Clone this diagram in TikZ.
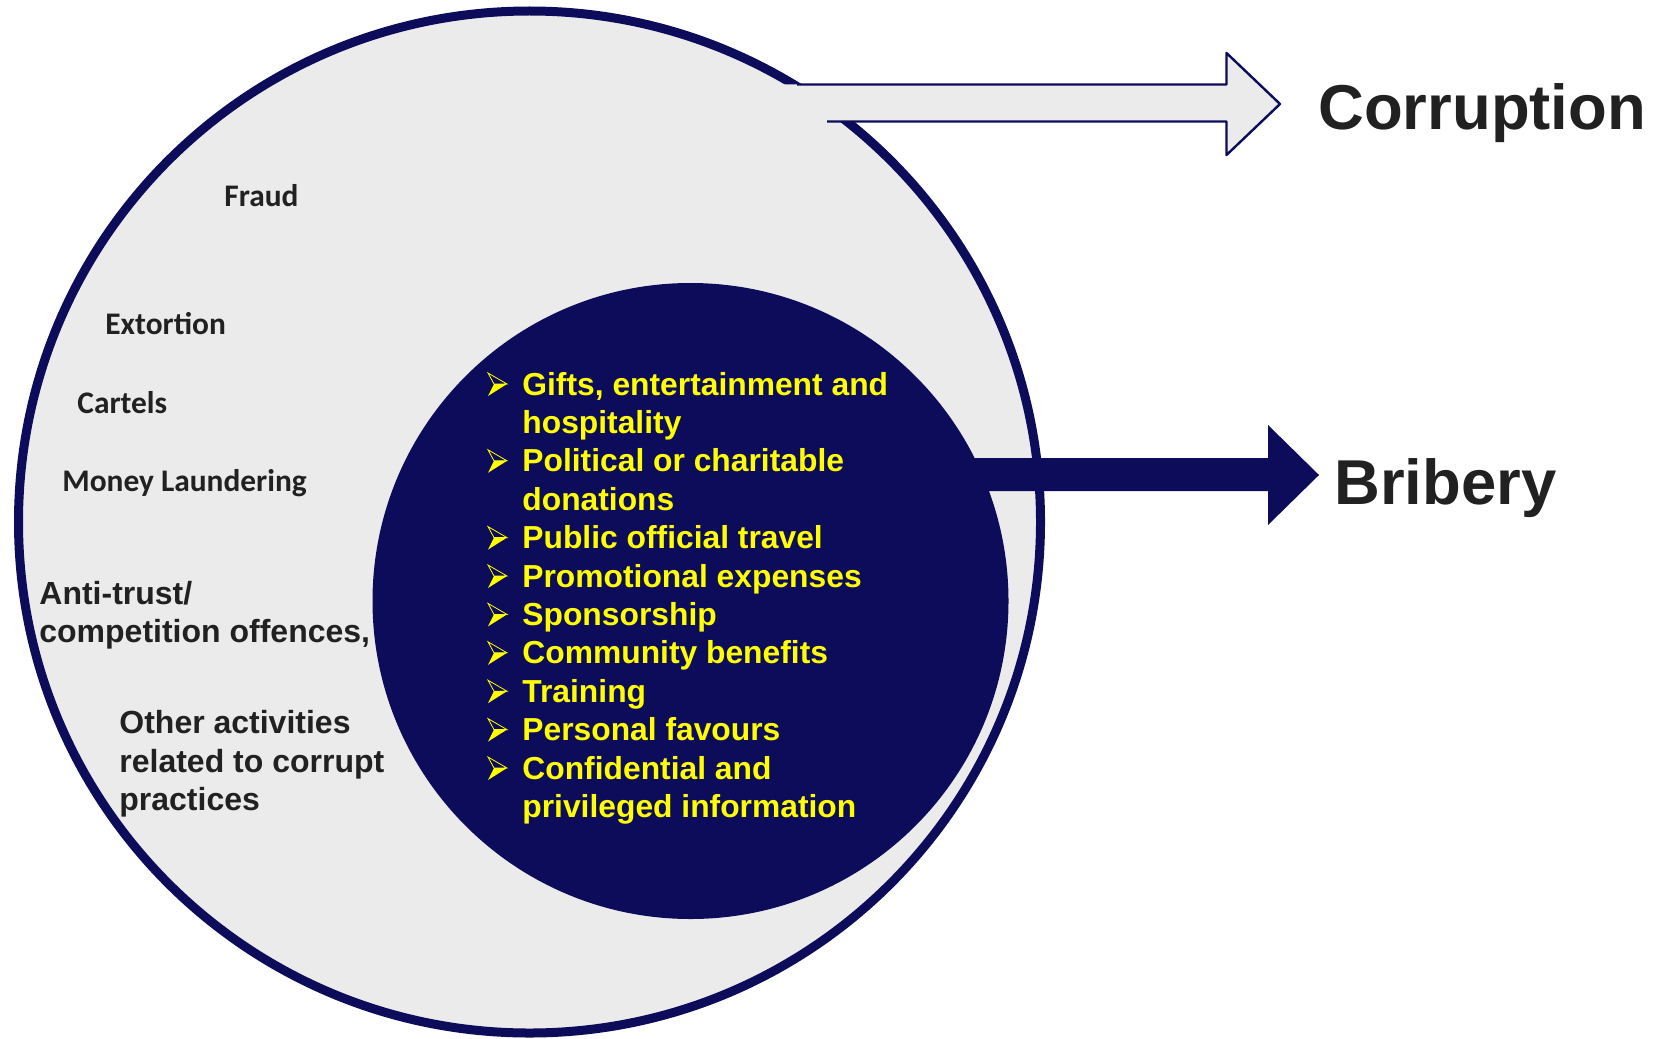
\documentclass[tikz,border=0pt]{standalone}
\usepackage{fontspec}
\setmainfont{Liberation Sans}
\newfontfamily\calfont{Carlito}
\definecolor{navy}{RGB}{12,12,90}
\definecolor{ringfill}{RGB}{235,235,235}
\definecolor{txt}{RGB}{33,33,33}
\definecolor{yel}{RGB}{255,255,0}
\begin{document}
\begin{tikzpicture}[x=0.5pt,y=-0.5pt,
  lbl/.style={anchor=base west, inner sep=0pt, text=txt, font=\bfseries\fontsize{16pt}{18pt}\selectfont},
  cal/.style={anchor=base west, inner sep=0pt, text=txt, font=\calfont\bfseries\fontsize{15.7pt}{18pt}\selectfont},
  item/.style={anchor=base west, inner sep=0pt, text=yel, font=\bfseries\fontsize{15.9pt}{18pt}\selectfont},
  big/.style={anchor=base west, inner sep=0pt, text=txt, font=\bfseries\fontsize{31.7pt}{36pt}\selectfont},
  pics/wbul/.style={code={
    \draw[yel, line width=0.4pt, line join=miter] (0,-22) -- (19,-11) -- (6,-11) -- cycle;
    \fill[yel] (6,-11) -- (19,-11) -- (0,1) -- cycle;
  }}]
\useasboundingbox (0,0) rectangle (1657,1038);
\fill[white] (0,0) rectangle (1657,1038);
% circles
\coordinate (oc) at (529.5,522);
\coordinate (ic) at (690.5,601);
\filldraw[fill=ringfill, draw=navy, line width=4.5pt] (oc) circle (511);
\fill[navy] (ic) circle (318);
% bribery arrow
\fill[navy] (900,458) -- (1268,458) -- (1268,425) -- (1319,475) -- (1268,525) -- (1268,491) -- (900,491) -- cycle;
% corruption arrow
\fill[ringfill] (780,84.5) -- (1226.5,84.5) -- (1226.5,53) -- (1280,104) -- (1226.5,155) -- (1226.5,121.5) -- (780,121.5) -- cycle;
\draw[navy, line width=1.2pt, line join=round] (797,84.5) -- (1226.5,84.5) -- (1226.5,53) -- (1280,104) -- (1226.5,155) -- (1226.5,121.5) -- (827,121.5);
% big labels
\node[big] (corrlbl) at (1318,129) {Corruption};
\node[big] (brilbl) at (1334,504) {Bribery};
% left labels
\node[cal] (fraud) at (224,206) {Fraud};
\node[cal] (ext) at (105,334) {Extortion};
\node[cal] (cart) at (77,413) {Cartels};
\node[cal] (money) at (62,491) {Money Laundering};
\node[lbl] (antiA) at (39,604) {Anti-trust/};
\node[lbl] (antiB) at (39,642) {competition offences,};
\node[lbl] (othA) at (119,733) {Other activities};
\node[lbl] (othB) at (119,772) {related to corrupt};
\node[lbl] (othC) at (119,810) {practices};
% bullet list
\pic at (488,395) {wbul};
\node[item] (i1) at (522,395) {Gifts, entertainment and};
\node[item] (i1b) at (522,433.4) {hospitality};
\pic at (488,471.8) {wbul};
\node[item] (i2) at (522,471.8) {Political or charitable};
\node[item] (i2b) at (522,510.2) {donations};
\pic at (488,548.6) {wbul};
\node[item] (i3) at (522,548.6) {Public official travel};
\pic at (488,587) {wbul};
\node[item] (i4) at (522,587) {Promotional expenses};
\pic at (488,625.4) {wbul};
\node[item] (i5) at (522,625.4) {Sponsorship};
\pic at (488,663.8) {wbul};
\node[item] (i6) at (522,663.8) {Community benefits};
\pic at (488,702.2) {wbul};
\node[item] (i7) at (522,702.2) {Training};
\pic at (488,740.6) {wbul};
\node[item] (i8) at (522,740.6) {Personal favours};
\pic at (488,779) {wbul};
\node[item] (i9) at (522,779) {Confidential and};
\node[item] (i9b) at (522,817.4) {privileged information};
\end{tikzpicture}
\end{document}
